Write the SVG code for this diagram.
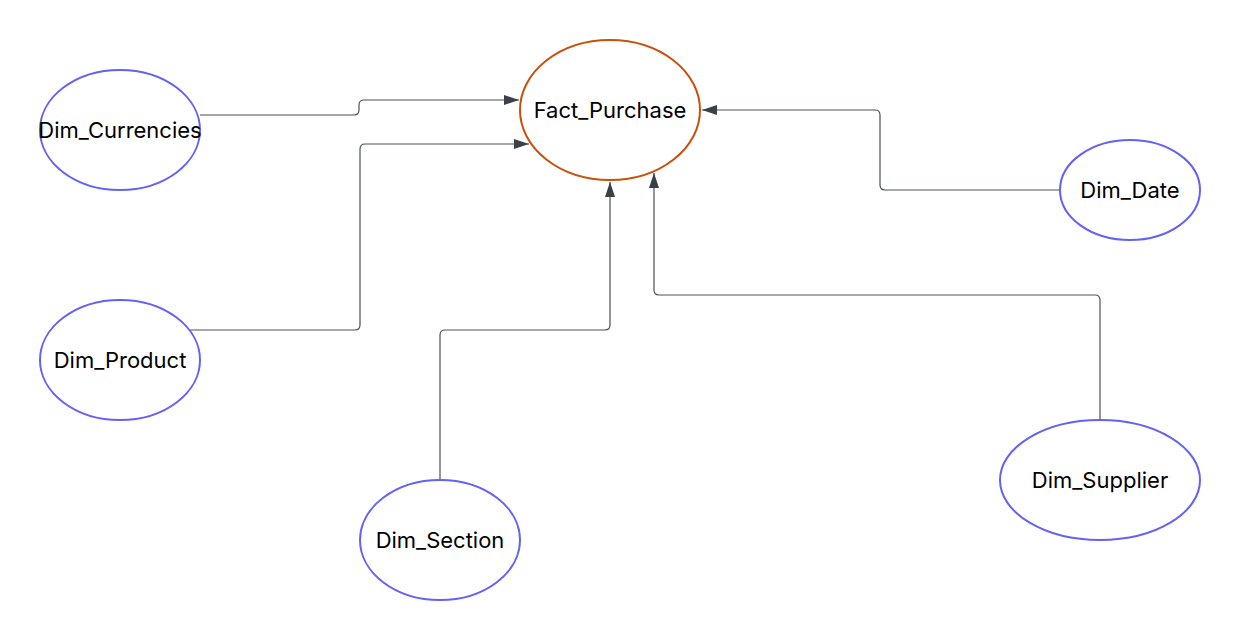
<svg xmlns="http://www.w3.org/2000/svg" width="1240" height="640" viewBox="0 0 1240 640">
<style>
.dim{fill:#ffffff;stroke:#6461F5;stroke-width:2}
.fact{fill:#ffffff;stroke:#C9500A;stroke-width:2}
.lbl{font-family:Inter,"Liberation Sans",sans-serif;font-size:22px;fill:#000000;text-anchor:middle}
.edge{fill:none;stroke:#4a505a;stroke-width:1.2}
</style>
<defs>
<marker id="arr" markerUnits="userSpaceOnUse" markerWidth="16" markerHeight="12" refX="15" refY="5" orient="auto">
<path d="M0,0 L15,5 L0,10 z" fill="#3a404a"/>
</marker>
</defs>
<rect width="1240" height="640" fill="#ffffff"/>
<g id="connectors">
<path class="edge" d="M200,115 H354 Q359,115 359,110 V105 Q359,100 364,100 H519" marker-end="url(#arr)"/>
<path class="edge" d="M190,330 H355 Q360,330 360,325 V149 Q360,144 365,144 H529" marker-end="url(#arr)"/>
<path class="edge" d="M1060,190 H885 Q880,190 880,185 V115 Q880,110 875,110 H702" marker-end="url(#arr)"/>
<path class="edge" d="M440,480 V335 Q440,330 445,330 H605 Q610,330 610,325 V182" marker-end="url(#arr)"/>
<path class="edge" d="M1100,420 V300 Q1100,295 1095,295 H659 Q654,295 654,290 V173" marker-end="url(#arr)"/>
</g>
<g id="fact_purchase">
<ellipse class="fact" cx="610" cy="110" rx="90" ry="70"/>
<text class="lbl" x="610" y="118">Fact_Purchase</text>
</g>
<g id="dim_currencies">
<ellipse class="dim" cx="120" cy="130" rx="80" ry="60"/>
<text class="lbl" x="120" y="138">Dim_Currencies</text>
</g>
<g id="dim_product">
<ellipse class="dim" cx="120" cy="360" rx="80" ry="60"/>
<text class="lbl" x="120" y="368">Dim_Product</text>
</g>
<g id="dim_section">
<ellipse class="dim" cx="440" cy="540" rx="80" ry="60"/>
<text class="lbl" x="440" y="548">Dim_Section</text>
</g>
<g id="dim_date">
<ellipse class="dim" cx="1130" cy="190" rx="70" ry="50"/>
<text class="lbl" x="1130" y="198">Dim_Date</text>
</g>
<g id="dim_supplier">
<ellipse class="dim" cx="1100" cy="480" rx="100" ry="60"/>
<text class="lbl" x="1100" y="488">Dim_Supplier</text>
</g>
</svg>
